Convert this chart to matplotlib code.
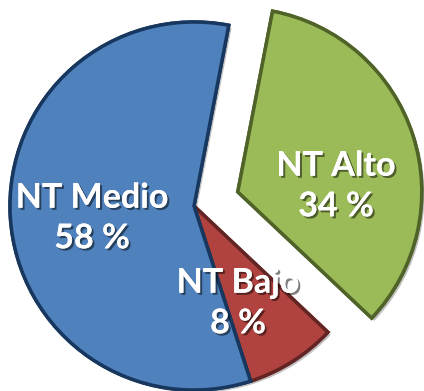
import matplotlib
matplotlib.use("Agg")
import matplotlib.pyplot as plt
import matplotlib.patheffects as pe

# datos
categorias = ["NT Alto", "NT Bajo", "NT Medio"]
porcentajes = [34, 8, 58]
colores = ["#9BBB59", "#B0433F", "#4F81BD"]
bordes = ["#4F6228", "#632523", "#17375E"]

fig = plt.figure(figsize=(4.24, 3.91), dpi=100)
ax = fig.add_axes([0, 0, 1, 1])

# explode de matplotlib va en unidades de datos (pixeles aqui)
wedges, _ = ax.pie(porcentajes, colors=colores, explode=[46, 0, 0],
                   startangle=79.1, counterclock=False,
                   center=(194, 185), radius=184,
                   wedgeprops=dict(linewidth=2.5), frame=True)
for w, b in zip(wedges, bordes):
    w.set_edgecolor(b)
    w.set_path_effects([pe.withSimplePatchShadow(offset=(2, -2), shadow_rgbFace="black", alpha=0.25),
                        pe.Normal()])
ax.set_xlim(0, 424)
ax.set_ylim(0, 391)
ax.axis("off")

# etiquetas
pos_etiquetas = [(336, 205), (238, 88), (92, 173)]
sombra = [pe.withSimplePatchShadow(offset=(1.5, -1.5), shadow_rgbFace="black", alpha=0.5), pe.Normal()]
for cat, pct, (x, y) in zip(categorias, porcentajes, pos_etiquetas):
    ax.text(x, y, f"{cat}\n{pct} %", ha="center", va="center", color="white",
            fontsize=24.5, fontweight="bold", family="Lato", linespacing=1.33,
            path_effects=sombra)

fig.savefig("out.png", dpi=100)
